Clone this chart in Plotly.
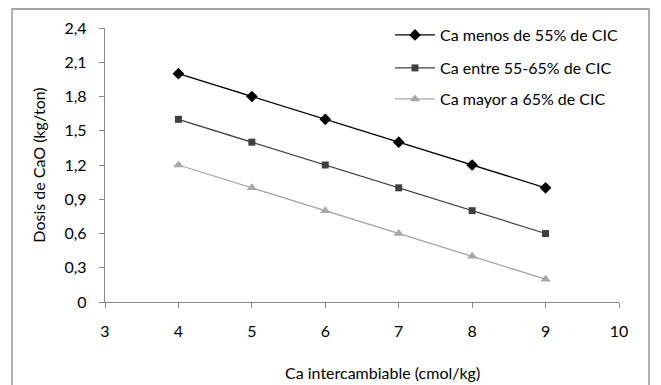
import plotly.graph_objects as go

# Exchangeable Ca (cmol/kg)
ca_intercambiable = [4, 5, 6, 7, 8, 9]

# CaO dose (kg/ton) for each Ca saturation class
ca_menos_55 = [2.0, 1.8, 1.6, 1.4, 1.2, 1.0]
ca_entre_55_65 = [1.6, 1.4, 1.2, 1.0, 0.8, 0.6]
ca_mayor_65 = [1.2, 1.0, 0.8, 0.6, 0.4, 0.2]

series_names = ["Ca menos de 55% de CIC", "Ca entre 55-65% de CIC", "Ca mayor a 65% de CIC"]

y_tickvals = [0, 0.3, 0.6, 0.9, 1.2, 1.5, 1.8, 2.1, 2.4]
y_ticktext = ["0", "0,3", "0,6", "0,9", "1,2", "1,5", "1,8", "2,1", "2,4"]
x_tickvals = [3, 4, 5, 6, 7, 8, 9, 10]

FONT = "Lato"
FS = 16
AXIS_GRAY = "#868686"

W, H = 661, 385
L, R, T, B = 105, 42, 28, 83
pw, ph = W - L - R, H - T - B


def px_x(p):
    return (p - L) / pw


def px_y(p):
    return (H - B - p) / ph


fig = go.Figure()
styles = [
    (ca_menos_55, "#000000", "diamond", 9),
    (ca_entre_55_65, "#404040", "square", 7),
    (ca_mayor_65, "#a6a6a6", "triangle-up", 9),
]
legend_ids = ["legend", "legend2", "legend3"]
legend_rows = [35, 68, 99]
for name, (vals, color, symbol, size), lid in zip(series_names, styles, legend_ids):
    fig.add_trace(go.Scatter(
        x=ca_intercambiable, y=vals, name=name, mode="lines+markers",
        line=dict(color=color, width=1.3),
        marker=dict(color=color, symbol=symbol, size=size, line=dict(width=0)),
        legend=lid,
    ))

legend_style = dict(xanchor="left", yanchor="middle", bgcolor="rgba(0,0,0,0)",
                    font=dict(size=FS, family=FONT), itemwidth=40)
legends = {lid: dict(x=px_x(390), y=px_y(row), **legend_style)
           for lid, row in zip(legend_ids, legend_rows)}

fig.add_shape(type="rect", xref="paper", yref="paper",
              x0=px_x(12), x1=px_x(649), y0=px_y(392), y1=px_y(9),
              line=dict(color=AXIS_GRAY, width=1.3), fillcolor="rgba(0,0,0,0)", layer="below")

fig.add_annotation(text="Ca intercambiable (cmol/kg)", xref="paper", yref="paper",
                   x=px_x(382), y=px_y(372), xanchor="center", yanchor="middle",
                   showarrow=False, font=dict(size=FS, family=FONT))

fig.update_layout(
    width=W, height=H,
    margin=dict(l=L, r=R, t=T, b=B),
    paper_bgcolor="white", plot_bgcolor="white",
    font=dict(family=FONT, size=FS, color="#000000"),
    showlegend=True,
    **legends,
    xaxis=dict(range=[3, 10], tickvals=x_tickvals, showgrid=False, zeroline=False,
               showline=True, linecolor=AXIS_GRAY, linewidth=1.3,
               ticks="outside", ticklen=5, tickcolor=AXIS_GRAY,
               ticklabelstandoff=10, tickfont=dict(size=FS)),
    yaxis=dict(range=[0, 2.4], tickvals=y_tickvals, ticktext=y_ticktext, showgrid=False,
               zeroline=False, showline=True, linecolor=AXIS_GRAY, linewidth=1.3,
               ticks="outside", ticklen=5, tickcolor=AXIS_GRAY,
               ticklabelstandoff=9, tickfont=dict(size=FS),
               title=dict(text="Dosis de CaO (kg/ton)", font=dict(size=FS), standoff=14)),
)

fig.write_html("out.html")
